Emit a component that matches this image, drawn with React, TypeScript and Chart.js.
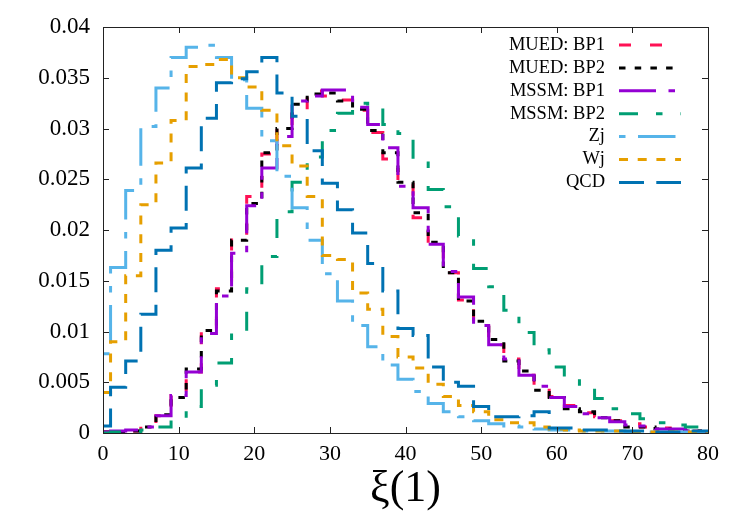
import { useEffect, useRef } from 'react';
import { Chart, registerables } from 'chart.js';

Chart.register(...registerables);

// Bin centres (bin width 2)
const BIN_CENTERS = [
  0, 2, 4, 6, 8, 10, 12, 14, 16, 18, 20, 22, 24, 26, 28, 30, 32, 34, 36, 38, 40,
  42, 44, 46, 48, 50, 52, 54, 56, 58, 60, 62, 64, 66, 68, 70, 72, 74, 76, 78, 80,
];

const MUED_BP1 = [
  0.0001, 0.0001, 0.0002, 0.0009, 0.0017, 0.0037, 0.006, 0.0101, 0.0142, 0.0193, 0.0233,
  0.0275, 0.0302, 0.0319, 0.0337, 0.0332, 0.0328, 0.0318, 0.0296, 0.027, 0.0245,
  0.0212, 0.0184, 0.0158, 0.0131, 0.0105, 0.0087, 0.0073, 0.0057, 0.0046, 0.0036,
  0.0027, 0.002, 0.0016, 0.0012, 0.0009, 0.0006, 0.0005, 0.0003, 0.0002, 0.0001,
];

const MUED_BP2 = [
  0.0001, 0.0001, 0.0002, 0.0006, 0.0018, 0.0035, 0.0063, 0.0101, 0.014, 0.019, 0.0226,
  0.0276, 0.03, 0.0324, 0.0334, 0.0335, 0.0327, 0.0319, 0.0298, 0.0276, 0.0247,
  0.0217, 0.0188, 0.0158, 0.013, 0.011, 0.0092, 0.0071, 0.0061, 0.0042, 0.0035,
  0.0024, 0.0021, 0.0015, 0.0012, 0.0006, 0.0006, 0.0004, 0.0003, 0.0002, 0.0001,
];

const MSSM_BP1 = [
  0.0001, 0.0002, 0.0003, 0.0006, 0.0017, 0.0037, 0.006, 0.0098, 0.0135, 0.0177, 0.0224,
  0.0261, 0.0292, 0.0327, 0.0332, 0.0338, 0.0338, 0.0321, 0.0304, 0.0281, 0.0243,
  0.0222, 0.0186, 0.0159, 0.0134, 0.0106, 0.0087, 0.0073, 0.0057, 0.0046, 0.0035,
  0.0026, 0.0019, 0.0015, 0.0011, 0.0008, 0.0007, 0.0004, 0.0004, 0.0002, 0.0001,
];

const MSSM_BP2 = [
  0.0, 0.0001, 0.0001, 0.0003, 0.0006, 0.0014, 0.0026, 0.0047, 0.0069, 0.01, 0.0142,
  0.0174, 0.0218, 0.0247, 0.0272, 0.0298, 0.0315, 0.0325, 0.032, 0.0304, 0.0295,
  0.0269, 0.024, 0.0223, 0.0194, 0.0162, 0.0144, 0.0121, 0.0099, 0.0082, 0.0065,
  0.0055, 0.0044, 0.0034, 0.0024, 0.0019, 0.0014, 0.001, 0.0008, 0.0006, 0.0002,
];

const ZJ = [
  0.0078, 0.0163, 0.0239, 0.0302, 0.034, 0.037, 0.038, 0.0382, 0.037, 0.0348, 0.032,
  0.0288, 0.0253, 0.0222, 0.019, 0.0157, 0.013, 0.0106, 0.0085, 0.0067, 0.0053,
  0.0041, 0.0029, 0.0021, 0.0016, 0.0012, 0.0009, 0.0007, 0.0006, 0.0004, 0.0003,
  0.0003, 0.0002, 0.0002, 0.0002, 0.0001, 0.0001, 0.0001, 0.0001, 0.0001, 0.0,
];

const WJ = [
  0.004, 0.009, 0.0155, 0.0225, 0.0266, 0.0308, 0.0361, 0.0363, 0.0368, 0.035, 0.0341,
  0.0318, 0.0283, 0.0263, 0.0233, 0.0175, 0.0171, 0.0138, 0.0122, 0.0095, 0.0075,
  0.0064, 0.0048, 0.0036, 0.0027, 0.0021, 0.0013, 0.001, 0.001, 0.0006, 0.0004,
  0.0003, 0.0002, 0.0002, 0.0002, 0.0001, 0.0001, 0.0001, 0.0001, 0.0001, 0.0,
];

const QCD = [
  0.0007, 0.0045, 0.0071, 0.0117, 0.018, 0.0202, 0.0261, 0.031, 0.0345, 0.0349, 0.0356,
  0.037, 0.0335, 0.0312, 0.0278, 0.0246, 0.022, 0.0197, 0.0167, 0.014, 0.0103,
  0.0096, 0.0065, 0.005, 0.0046, 0.0026, 0.0016, 0.0016, 0.0017, 0.0021, 0.0005,
  0.0005, 0.0003, 0.0003, 0.0002, 0.0002, 0.0002, 0.0001, 0.0001, 0.0002, 0.0002,
];

const SERIES_LABELS = ['MUED: BP1', 'MUED: BP2', 'MSSM: BP1', 'MSSM: BP2', 'Zj', 'Wj', 'QCD'];
const SERIES_VALUES = [MUED_BP1, MUED_BP2, MSSM_BP1, MSSM_BP2, ZJ, WJ, QCD];
const SERIES_COLORS = ['#ff1155', '#000000', '#9400d3', '#009e73', '#56b4e9', '#e69f00', '#0072b2'];
const SERIES_DASHES = [
  [12, 19],
  [6.5, 9.2],
  [37, 12.5, 6.5, 12.5],
  [19, 18, 6.5, 18],
  [6.5, 12.5, 37.5, 12.5],
  [9, 9.7],
  [25, 12.3],
];

const X_TICKS = [0, 10, 20, 30, 40, 50, 60, 70, 80];
const X_TICK_LABELS = ['0', '10', '20', '30', '40', '50', '60', '70', '80'];
const Y_TICKS = [0, 0.005, 0.01, 0.015, 0.02, 0.025, 0.03, 0.035, 0.04];
const Y_TICK_LABELS = ['0', '0.005', '0.01', '0.015', '0.02', '0.025', '0.03', '0.035', '0.04'];

const FONT = '"Liberation Serif", "Times New Roman", serif';

const framePlugin = {
  id: 'gpFrame',
  afterDraw(chart: any) {
    const { ctx, chartArea, scales } = chart;
    const { left, right, top, bottom } = chartArea;
    ctx.save();
    ctx.setLineDash([]);
    ctx.strokeStyle = '#222';
    ctx.lineWidth = 1;
    const line = (x1: number, y1: number, x2: number, y2: number) => {
      ctx.beginPath();
      ctx.moveTo(x1, y1);
      ctx.lineTo(x2, y2);
      ctx.stroke();
    };
    Y_TICKS.forEach((v) => {
      const py = Math.round(scales.y.getPixelForValue(v)) + 0.5;
      line(left, py, left + 6, py);
      line(right - 6, py, right, py);
    });
    X_TICKS.forEach((v) => {
      const px = Math.round(scales.x.getPixelForValue(v)) + 0.5;
      line(px, bottom, px, bottom - 6);
      line(px, top, px, top + 6);
    });
    ctx.strokeRect(Math.round(left) + 0.5, Math.round(top) + 0.5, Math.round(right - left), Math.round(bottom - top));
    ctx.restore();
  },
};

const legendPlugin = {
  id: 'gpLegend',
  afterDraw(chart: any) {
    const { ctx, chartArea } = chart;
    const textRight = chartArea.right - 103;
    const lineStart = chartArea.right - 89;
    const lineEnd = chartArea.right - 27;
    ctx.save();
    ctx.font = `18.5px ${FONT}`;
    ctx.textAlign = 'right';
    ctx.textBaseline = 'middle';
    SERIES_LABELS.forEach((label, i) => {
      const y = chartArea.top + 18 + i * 22.9;
      ctx.fillStyle = '#000';
      ctx.fillText(label, textRight, y);
      ctx.strokeStyle = SERIES_COLORS[i];
      ctx.lineWidth = 3;
      ctx.lineCap = 'butt';
      ctx.setLineDash(SERIES_DASHES[i]);
      ctx.lineDashOffset = 0;
      ctx.beginPath();
      ctx.moveTo(lineStart, y);
      ctx.lineTo(lineEnd, y);
      ctx.stroke();
    });
    ctx.restore();
  },
};

export default function App() {
  const canvasRef = useRef<HTMLCanvasElement | null>(null);

  useEffect(() => {
    const canvas = canvasRef.current;
    if (!canvas) return;
    const datasets = SERIES_LABELS.map((label, i) => ({
      label,
      data: BIN_CENTERS.map((x, j) => ({ x, y: SERIES_VALUES[i][j] })),
      borderColor: SERIES_COLORS[i],
      backgroundColor: SERIES_COLORS[i],
      borderWidth: 3,
      borderDash: SERIES_DASHES[i],
      borderCapStyle: 'butt' as const,
      borderJoinStyle: 'miter' as const,
      stepped: 'middle' as const,
      pointRadius: 0,
      fill: false,
      clip: 0,
      order: SERIES_LABELS.length - i,
    }));

    const chart = new Chart(canvas, {
      type: 'line',
      data: { datasets },
      plugins: [framePlugin, legendPlugin],
      options: {
        responsive: false,
        animation: false,
        devicePixelRatio: 1,
        layout: { padding: { top: 27, right: 42, left: 0, bottom: 0 } },
        plugins: {
          legend: { display: false },
          tooltip: { enabled: false },
          title: { display: false },
        },
        scales: {
          x: {
            type: 'linear',
            min: 0,
            max: 80,
            afterBuildTicks: (s: any) => {
              s.ticks = X_TICKS.map((v) => ({ value: v }));
            },
            afterFit: (s: any) => {
              s.height = 92;
            },
            grid: { display: false, drawTicks: false },
            border: { display: false },
            ticks: {
              color: '#000',
              padding: 8,
              maxRotation: 0,
              autoSkip: false,
              font: { family: FONT, size: 22 },
              callback: (_v: any, i: number) => X_TICK_LABELS[i],
            },
            title: {
              display: true,
              text: 'ξ(1)',
              color: '#000',
              font: { family: FONT, size: 44 },
              padding: { top: 0, bottom: 9 },
            },
          },
          y: {
            type: 'linear',
            min: 0,
            max: 0.04,
            afterBuildTicks: (s: any) => {
              s.ticks = Y_TICKS.map((v) => ({ value: v }));
            },
            afterFit: (s: any) => {
              s.width = 103;
            },
            grid: { display: false, drawTicks: false },
            border: { display: false },
            ticks: {
              color: '#000',
              padding: 13,
              autoSkip: false,
              font: { family: FONT, size: 23 },
              callback: (_v: any, i: number) => Y_TICK_LABELS[i],
            },
          },
        },
      },
    });
    return () => chart.destroy();
  }, []);

  return (
    <div style={{ position: 'absolute', left: 0, top: 0, width: 750, height: 525, background: '#fff' }}>
      <canvas ref={canvasRef} width={750} height={525} style={{ display: 'block' }} />
    </div>
  );
}
